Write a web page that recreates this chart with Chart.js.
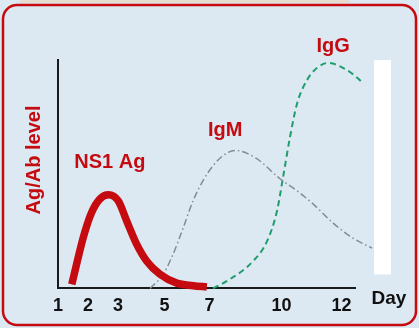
<!DOCTYPE html>
<html>
<head>
<meta charset="utf-8">
<script src="https://cdn.jsdelivr.net/npm/chart.js@4/dist/chart.umd.min.js"></script>
<style>
  html, body { margin: 0; padding: 0; background: #dce8f2; }
  #wrap { width: 419px; height: 328px; position: relative; }
</style>
</head>
<body>
<div id="wrap"><canvas id="chart"></canvas></div>
<script>
// x is measured in axis positions, the tick labels are put on them
const tickPositions = [1, 2, 3, 4.55, 6.05, 8.45, 10.45];
const tickLabels = ['1', '2', '3', '5', '7', '10', '12'];

const ns1X = [1.46, 1.62, 1.84, 2.12, 2.4, 2.68, 3.01, 3.29, 3.62, 3.96, 4.4, 4.96, 5.51, 5.96];
const ns1Y = [1.8, 10.6, 22.2, 33.2, 39.2, 41, 38.3, 29.5, 19.4, 11.9, 6.2, 2.3, 1.2, 0.6];

const igmX = [4.07, 4.5, 4.83, 5.17, 5.5, 5.83, 6.17, 6.5, 6.9, 7.6, 8.4, 8.97, 9.5, 10.17, 10.83, 11.47];
const igmY = [0, 6, 14.8, 26.4, 38.3, 47.1, 53.7, 58.1, 60.4, 57, 48, 42.7, 37, 28.6, 22, 17.6];

const iggX = [6.17, 6.73, 7.5, 7.97, 8.3, 8.5, 8.73, 8.97, 9.3, 9.63, 10.0, 10.63, 11.17, 11.97];
const iggY = [0, 4, 11.9, 20.7, 33.9, 48.5, 66, 81, 91.2, 96.5, 98.7, 95.6, 89.9, 78.9];

const noteText = ['NS1 Ag', 'IgM', 'IgG'];
const noteX = [2.73, 6.57, 10.17];
const noteY = [55, 69, 105.7];

const red = '#c50a10';
const font = '"Liberation Sans", Arial, sans-serif';

function points(xs, ys) {
    return xs.map((x, i) => ({ x: x, y: ys[i] }));
}

// фон, рамка и белая полоса справа
const framePlugin = {
    id: 'frame',
    beforeDraw(chart) {
        const ctx = chart.ctx;
        const w = chart.width, h = chart.height;
        ctx.save();
        ctx.fillStyle = '#dce8f2';
        ctx.fillRect(0, 0, w, h);
        ctx.fillStyle = '#e6ddd0';
        ctx.fillRect(20, 0, 330, 3);
        ctx.strokeStyle = red;
        ctx.lineWidth = 2.5;
        ctx.beginPath();
        ctx.roundRect(3, 5, w - 6, h - 8, 14);
        ctx.stroke();
        ctx.restore();
    },
    beforeDatasetsDraw(chart) {
        const a = chart.chartArea;
        const ctx = chart.ctx;
        ctx.save();
        ctx.fillStyle = '#ffffff';
        ctx.fillRect(a.right + 19, a.top, 17, a.bottom - a.top - 14);
        ctx.restore();
    },
    afterDraw(chart) {
        const ctx = chart.ctx;
        const a = chart.chartArea;
        const xs = chart.scales.x, ys = chart.scales.y;
        ctx.save();
        ctx.textAlign = 'center';
        ctx.textBaseline = 'middle';
        ctx.fillStyle = red;
        ctx.font = 'bold 20px ' + font;
        noteText.forEach((t, i) => {
            ctx.fillText(t, xs.getPixelForValue(noteX[i]), ys.getPixelForValue(noteY[i]));
        });
        ctx.save();
        ctx.translate(a.left - 24, a.top + 100);
        ctx.rotate(-Math.PI / 2);
        ctx.fillText('Ag/Ab level', 0, 0);
        ctx.restore();
        ctx.fillStyle = '#111111';
        ctx.font = 'bold 19px ' + font;
        ctx.fillText('Day', a.right + 34, a.bottom + 10);
        ctx.restore();
    }
};

new Chart(document.getElementById('chart'), {
    type: 'line',
    data: {
        datasets: [
            {
                label: 'NS1 Ag',
                data: points(ns1X, ns1Y),
                borderColor: red,
                borderWidth: 7.5,
                borderCapStyle: 'butt',
                cubicInterpolationMode: 'monotone',
                pointRadius: 0,
                clip: false
            },
            {
                label: 'IgM',
                data: points(igmX, igmY),
                borderColor: '#858b96',
                borderWidth: 1.5,
                borderDash: [7, 3, 1.5, 3],
                cubicInterpolationMode: 'monotone',
                pointRadius: 0,
                clip: false
            },
            {
                label: 'IgG',
                data: points(iggX, iggY),
                borderColor: '#1f9e6c',
                borderWidth: 2,
                borderDash: [6, 4],
                cubicInterpolationMode: 'monotone',
                pointRadius: 0,
                clip: false
            }
        ]
    },
    options: {
        responsive: true,
        maintainAspectRatio: false,
        animation: false,
        layout: { padding: { left: 58, right: 64, top: 60, bottom: 4 } },
        plugins: { legend: { display: false }, tooltip: { enabled: false } },
        scales: {
            x: {
                type: 'linear',
                min: 1,
                max: 10.9,
                grid: { display: false, drawTicks: false },
                border: { color: '#1a1a1a', width: 2 },
                afterBuildTicks: (scale) => {
                    scale.ticks = tickPositions.map(v => ({ value: v }));
                },
                ticks: {
                    autoSkip: false,
                    maxRotation: 0,
                    padding: 7,
                    color: '#111111',
                    font: { family: font, size: 18, weight: 'bold' },
                    callback: (value, index) => tickLabels[index]
                }
            },
            y: {
                min: 0,
                max: 100,
                grid: { display: false, drawTicks: false },
                border: { color: '#1a1a1a', width: 2 },
                ticks: { display: false }
            }
        }
    },
    plugins: [framePlugin]
});
</script>
</body>
</html>
